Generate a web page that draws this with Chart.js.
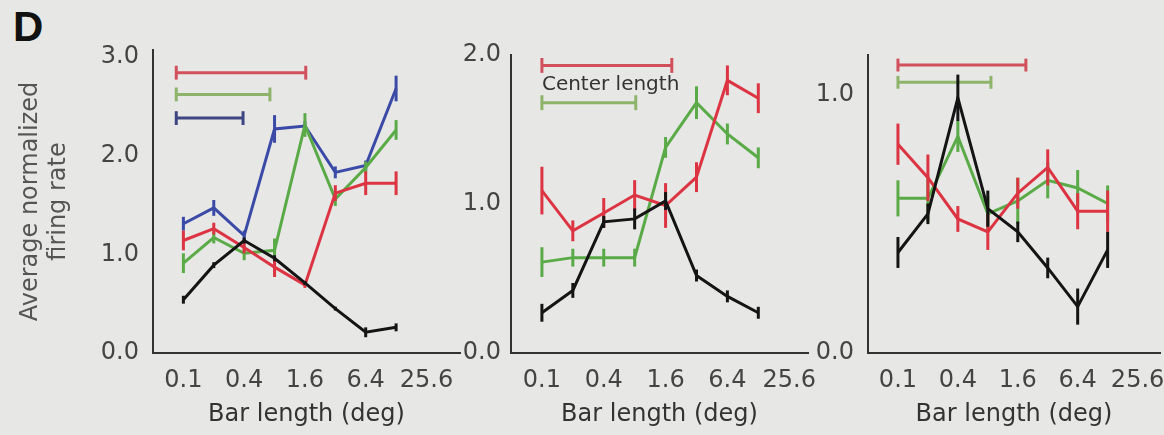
<!DOCTYPE html>
<html>
<head>
<meta charset="utf-8">
<script src="https://cdn.jsdelivr.net/npm/chart.js@4.4.0/dist/chart.umd.min.js"></script>
<style>
body { margin:0; background:#e7e7e5; width:1164px; height:435px; overflow:hidden; position:relative; }
canvas { position:absolute; top:0; }
#panelLetter { position:absolute; left:13px; top:3px; font:bold 42px "Liberation Sans"; color:#111; }
</style>
</head>
<body>
<div id="panelLetter">D</div>
<canvas id="c1" width="470" height="435" style="left:0px"></canvas>
<canvas id="c2" width="380" height="435" style="left:440px"></canvas>
<canvas id="c3" width="364" height="435" style="left:800px"></canvas>
<script>
// bar lengths tested (deg) and axis tick labels
var barLengths = [0.1, 0.2, 0.4, 0.8, 1.6, 3.2, 6.4, 12.8];
var xTickValues = [0.1, 0.4, 1.6, 6.4, 25.6];

// left panel
var p1Black = [0.54, 0.89, 1.14, 0.96, 0.71, 0.45, 0.21, 0.26];
var p1BlackErr = [0.04, 0.03, 0.03, 0.03, 0.02, 0.02, 0.05, 0.04];
var p1Red = [1.14, 1.26, 1.07, 0.87, 0.69, 1.62, 1.72, 1.72];
var p1RedErr = [0.10, 0.06, 0.06, 0.10, 0.03, 0.08, 0.12, 0.12];
var p1Green = [0.91, 1.17, 1.01, 1.04, 2.31, 1.56, 1.88, 2.26];
var p1GreenErr = [0.10, 0.06, 0.07, 0.12, 0.12, 0.07, 0.06, 0.10];
var p1Blue = [1.31, 1.47, 1.19, 2.27, 2.30, 1.83, 1.90, 2.68];
var p1BlueErr = [0.07, 0.08, 0.05, 0.14, 0.05, 0.06, 0.05, 0.13];
var p1YTicks = [0, 1, 2, 3];
// center length ranges: red, green, blue
var p1CenterFrom = [0.085, 0.085, 0.085];
var p1CenterTo = [1.63, 0.72, 0.39];
var p1CenterLevel = [2.84, 2.62, 2.38];

// middle panel
var p2Black = [0.27, 0.42, 0.88, 0.90, 1.02, 0.52, 0.38, 0.27];
var p2BlackErr = [0.06, 0.05, 0.04, 0.07, 0.06, 0.04, 0.04, 0.04];
var p2Red = [1.09, 0.82, 0.94, 1.06, 0.99, 1.18, 1.83, 1.71];
var p2RedErr = [0.16, 0.07, 0.10, 0.10, 0.15, 0.10, 0.10, 0.10];
var p2Green = [0.61, 0.64, 0.64, 0.64, 1.38, 1.68, 1.47, 1.31];
var p2GreenErr = [0.10, 0.06, 0.06, 0.06, 0.07, 0.11, 0.07, 0.07];
var p2YTicks = [0, 1, 2];
var p2CenterFrom = [0.1, 0.1];
var p2CenterTo = [1.84, 0.82];
var p2CenterLevel = [1.93, 1.68];

// right panel
var p3Black = [0.39, 0.54, 0.99, 0.56, 0.47, 0.33, 0.18, 0.40];
var p3BlackErr = [0.06, 0.04, 0.09, 0.07, 0.04, 0.04, 0.07, 0.07];
var p3Red = [0.81, 0.68, 0.52, 0.47, 0.62, 0.72, 0.55, 0.55];
var p3RedErr = [0.08, 0.09, 0.05, 0.07, 0.06, 0.07, 0.07, 0.08];
var p3Green = [0.60, 0.60, 0.84, 0.54, 0.59, 0.67, 0.64, 0.58];
var p3GreenErr = [0.07, 0.09, 0.06, 0.07, 0.09, 0.07, 0.07, 0.07];
var p3YTicks = [0, 1];
var p3CenterFrom = [0.1, 0.1];
var p3CenterTo = [1.93, 0.86];
var p3CenterLevel = [1.117, 1.05];

var BLACK = '#141414', RED = '#dc3442', GREEN = '#5aab48', BLUE = '#3a4aa6';
var RED_BAR = '#d2505c', GREEN_BAR = '#8db46a', BLUE_BAR = '#3e4682';

Chart.defaults.font.family = 'DejaVu Sans';
Chart.defaults.font.size = 24;
Chart.defaults.color = '#444';

// vertical error bars drawn right after each dataset so layering is kept
var errorBarPlugin = {
    id: 'errorBars',
    afterDatasetDraw: function(chart, args) {
        var ds = chart.data.datasets[args.index];
        if (!ds.errY) return;
        var ctx = chart.ctx;
        var yScale = chart.scales.y;
        ctx.save();
        ctx.strokeStyle = ds.borderColor;
        ctx.lineWidth = ds.borderWidth;
        args.meta.data.forEach(function(pt, i) {
            var d = ds.data[i];
            ctx.beginPath();
            ctx.moveTo(pt.x, yScale.getPixelForValue(d.y + ds.errY[i]));
            ctx.lineTo(pt.x, yScale.getPixelForValue(d.y - ds.errY[i]));
            ctx.stroke();
        });
        ctx.restore();
    }
};

// "Center length" label, placed on the scales
var centerTextPlugin = {
    id: 'centerText',
    afterDraw: function(chart) {
        var t = chart.options.plugins.centerText;
        if (!t || !t.text) return;
        var ctx = chart.ctx;
        ctx.save();
        ctx.font = '20px "DejaVu Sans"';
        ctx.fillStyle = '#333';
        ctx.textAlign = 'left';
        ctx.textBaseline = 'middle';
        ctx.fillText(t.text, chart.scales.x.getPixelForValue(t.x), chart.scales.y.getPixelForValue(t.y));
        ctx.restore();
    }
};

function series(vals, errs, color) {
    return {
        data: barLengths.map(function(x, i) { return {x: x, y: vals[i]}; }),
        errY: errs,
        borderColor: color,
        borderWidth: 3,
        pointRadius: 0,
        tension: 0,
        fill: false,
        clip: false
    };
}

function centerBar(from, to, level, cap, color) {
    return {
        data: [{x: from, y: level}, {x: to, y: level}],
        errY: [cap, cap],
        borderColor: color,
        borderWidth: 3,
        pointRadius: 0,
        fill: false,
        clip: false
    };
}

function makePanel(id, datasets, opt) {
    var ctx = document.getElementById(id);
    return new Chart(ctx, {
        type: 'line',
        data: { datasets: datasets },
        plugins: [errorBarPlugin, centerTextPlugin],
        options: {
            responsive: false,
            animation: false,
            devicePixelRatio: 1,
            layout: { padding: { top: opt.top, right: opt.right, left: 0, bottom: 0 } },
            plugins: {
                legend: { display: false },
                tooltip: { enabled: false },
                centerText: opt.centerText || null
            },
            scales: {
                x: {
                    type: 'logarithmic',
                    min: 0.05,
                    max: opt.xMax,
                    grid: { display: false, drawTicks: false },
                    border: { display: true, color: '#333', width: 2 },
                    ticks: {
                        padding: 13,
                        color: '#444',
                        autoSkip: false,
                        maxRotation: 0,
                        callback: function(v) { return Number(v).toFixed(1); }
                    },
                    afterBuildTicks: function(scale) {
                        scale.ticks = xTickValues.map(function(v) { return {value: v}; });
                    },
                    afterFit: function(scale) {
                        scale.height = 82;
                        scale.paddingLeft = 0;
                        scale.paddingRight = 0;
                    },
                    title: {
                        display: true,
                        text: 'Bar length (deg)',
                        color: '#333',
                        padding: { top: 0, bottom: 6 }
                    }
                },
                y: {
                    min: 0,
                    max: opt.yMax,
                    grid: { display: false, drawTicks: false },
                    border: { display: true, color: '#333', width: 2 },
                    ticks: {
                        padding: opt.yPad,
                        color: '#444',
                        callback: function(v) { return Number(v).toFixed(1); }
                    },
                    afterBuildTicks: function(scale) {
                        scale.ticks = opt.yTicks.map(function(v) { return {value: v}; });
                    },
                    afterFit: function(scale) { scale.width = opt.yWidth; },
                    title: {
                        display: !!opt.yTitle,
                        text: opt.yTitle || '',
                        color: '#555',
                        padding: { top: 16, bottom: 0 }
                    }
                }
            }
        }
    });
}

makePanel('c1', [
    series(p1Black, p1BlackErr, BLACK),
    series(p1Red, p1RedErr, RED),
    series(p1Green, p1GreenErr, GREEN),
    series(p1Blue, p1BlueErr, BLUE),
    centerBar(p1CenterFrom[0], p1CenterTo[0], p1CenterLevel[0], 0.07, RED_BAR),
    centerBar(p1CenterFrom[1], p1CenterTo[1], p1CenterLevel[1], 0.07, GREEN_BAR),
    centerBar(p1CenterFrom[2], p1CenterTo[2], p1CenterLevel[2], 0.07, BLUE_BAR)
], { top: 50, right: 10, xMax: 55, yMax: 3.07, yTicks: p1YTicks, yWidth: 153, yPad: 14,
     yTitle: ['Average normalized', 'firing rate'] });

makePanel('c2', [
    series(p2Black, p2BlackErr, BLACK),
    series(p2Red, p2RedErr, RED),
    series(p2Green, p2GreenErr, GREEN),
    centerBar(p2CenterFrom[0], p2CenterTo[0], p2CenterLevel[0], 0.05, RED_BAR),
    centerBar(p2CenterFrom[1], p2CenterTo[1], p2CenterLevel[1], 0.05, GREEN_BAR)
], { top: 55, right: 12, xMax: 39, yMax: 2.0, yTicks: p2YTicks, yWidth: 71, yPad: 10,
     centerText: { text: 'Center length', x: 0.1, y: 1.80 } });

makePanel('c3', [
    series(p3Black, p3BlackErr, BLACK),
    series(p3Red, p3RedErr, RED),
    series(p3Green, p3GreenErr, GREEN),
    centerBar(p3CenterFrom[0], p3CenterTo[0], p3CenterLevel[0], 0.025, RED_BAR),
    centerBar(p3CenterFrom[1], p3CenterTo[1], p3CenterLevel[1], 0.025, GREEN_BAR)
], { top: 55, right: 4, xMax: 43, yMax: 1.156, yTicks: p3YTicks, yWidth: 68, yPad: 14 });
</script>
</body>
</html>
